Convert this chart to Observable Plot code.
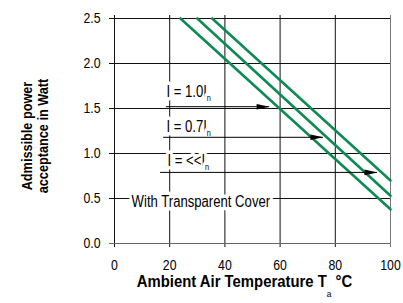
<!DOCTYPE html>
<html><head><meta charset="utf-8">
<script src="https://cdn.jsdelivr.net/npm/d3@7"></script>
<script src="https://cdn.jsdelivr.net/npm/@observablehq/plot@0.6"></script>
<style>body{margin:0;background:#fff} svg{display:block}</style>
</head><body><div id="chart"></div>
<script>
// ---- data ----
const curveLabels = ["I = 1.0In", "I = 0.7In", "I = <<In"];
const tempAtMaxPower = [23.9, 30.0, 35.4];   // °C where each curve leaves the top (2.5 W)
const maxPower = 2.5;
const powerAt100 = [0.38, 0.53, 0.70];       // W at 100 °C
const arrowPower = [1.52, 1.18, 0.79];
const arrowStart = [18.8, 17.8, 16.7];
const arrowEnd = [56.2, 75.7, 95.3];
const labelText = ["I = 1.0I_{n}", "I = 0.7I_{n}", "I = <<I_{n}"];
const labelTemp = [18.8, 18.8, 19.2];
const labelPower = [1.69, 1.30, 0.92];
const noteText = ["With Transparent Cover"];
const noteTemp = [6.2];
const notePower = [0.46];
const xTicks = [0, 20, 40, 60, 80, 100];
const yTicks = [0, 0.5, 1.0, 1.5, 2.0, 2.5];
const xTitle = "Ambient Air Temperature T_{a} °C";
const yTitleLines = ["Admissible power", "acceptance in Watt"];

// ---- tables built from the arrays ----
const curves = curveLabels.flatMap((c, i) => [
  {curve: c, t: tempAtMaxPower[i], p: maxPower},
  {curve: c, t: 100, p: powerAt100[i]}
]);
const arrows = arrowPower.map((p, i) => ({p, a: arrowStart[i], b: arrowEnd[i]}));
const labels = labelText.map((s, i) => ({s, t: labelTemp[i], p: labelPower[i]}));
const notes = noteText.map((s, i) => ({s, t: noteTemp[i], p: notePower[i]}));

const headSymbol = {draw(ctx) { ctx.moveTo(0, 0); ctx.lineTo(-13, -2.8); ctx.lineTo(-13, 2.8); ctx.closePath(); }};
const FONT = "'Liberation Sans', Arial, sans-serif";
const halo = {stroke: "white", strokeWidth: 7, strokeLinejoin: "round", paintOrder: "stroke"};

const chart = Plot.plot({
  width: 403,
  height: 303,
  marginLeft: 114,
  marginRight: 13,
  marginTop: 18,
  marginBottom: 60,
  style: {fontFamily: FONT, background: "white", color: "black", overflow: "visible"},
  x: {domain: [0, 100], ticks: xTicks},
  y: {domain: [0, 2.5], ticks: yTicks},
  marks: [
    Plot.ruleX(xTicks, {stroke: d => d === 100 ? "#777" : "#111", strokeWidth: 1, insetTop: -3, insetBottom: -4}),
    Plot.ruleY(yTicks, {stroke: d => d === 0 ? "#666" : "#111", strokeWidth: 1, insetLeft: -5}),
    Plot.axisX(xTicks, {tickSize: 0, tickPadding: 16, fontSize: 15, label: null}),
    Plot.axisY(yTicks, {tickSize: 0, tickPadding: 14, fontSize: 15, label: null, tickFormat: d3.format(".1f")}),
    Plot.line(curves, {x: "t", y: "p", z: "curve", stroke: "#0e8a52", strokeWidth: 2.6}),
    Plot.text(labels, {x: "t", y: "p", text: "s", textAnchor: "start", fontSize: 16, fill: "black", ...halo}),
    Plot.text(notes, {x: "t", y: "p", text: "s", textAnchor: "start", fontSize: 16, fill: "black", ...halo}),
    Plot.ruleY(arrows, {y: "p", x1: "a", x2: "b", stroke: "black", strokeWidth: 1}),
    Plot.dot(arrows, {x: "b", y: "p", symbol: headSymbol, fill: "black", r: 5}),
    Plot.text([yTitleLines[0]], {text: d => d, frameAnchor: "left", dx: -87, dy: 5, rotate: -90, textAnchor: "middle",
      fontWeight: "bold", fontSize: 15.5, fill: "black"}),
    Plot.text([yTitleLines[1]], {text: d => d, frameAnchor: "left", dx: -71, dy: 5, rotate: -90, textAnchor: "middle",
      fontWeight: "bold", fontSize: 15.5, fill: "black"}),
    Plot.text([xTitle], {text: d => d, frameAnchor: "bottom", dy: 43.5, dx: -8, textAnchor: "middle",
      fontWeight: "bold", fontSize: 16, fill: "black"})
  ]
});

// subscripts: turn "X_{s}" into tspans
chart.querySelectorAll("text").forEach(t => {
  const s = t.textContent;
  if (!s.includes("_{")) return;
  const isTitle = s.startsWith("Ambient");
  const shift = isTitle ? 10 : 4;
  const parts = s.split(/_\{([^}]*)\}/);
  t.textContent = "";
  parts.forEach((p, i) => {
    if (!p) return;
    const ts = document.createElementNS("http://www.w3.org/2000/svg", "tspan");
    ts.textContent = p;
    if (i % 2 === 1) {
      ts.setAttribute("dy", shift);
      ts.setAttribute("font-size", 9);
      ts.setAttribute("font-weight", "normal");
    } else if (i > 0) {
      ts.setAttribute("dy", -shift);
    }
    t.appendChild(ts);
  });
});

// condensed look (like the reference's narrow typeface): squeeze each text horizontally about its anchor
chart.querySelectorAll("text").forEach(t => {
  const k = t.textContent.startsWith("Ambient") ? 0.93 : 0.82;
  const tr = t.getAttribute("transform");
  if (tr) {
    t.setAttribute("transform", `${tr} scale(${k},1)`);
  } else {
    const x = +(t.getAttribute("x") || 0), y = +(t.getAttribute("y") || 0);
    t.setAttribute("transform", `translate(${x},${y}) scale(${k},1) translate(${-x},${-y})`);
  }
});

document.getElementById("chart").appendChild(chart);
</script>
</body></html>
